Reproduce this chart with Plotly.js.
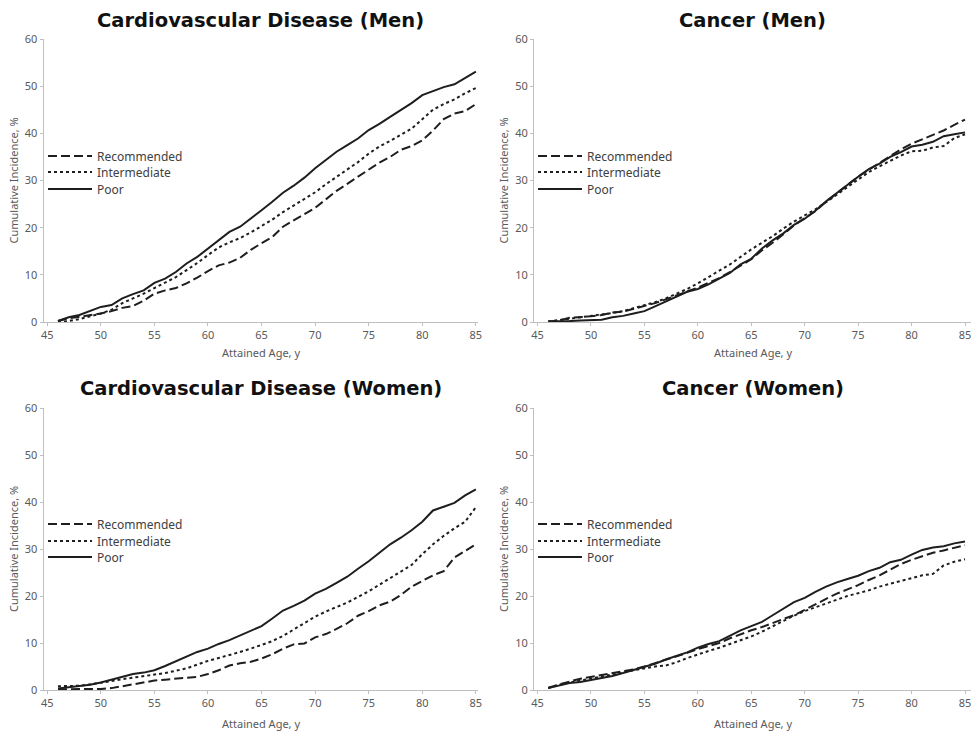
<!DOCTYPE html>
<html><head><meta charset="utf-8">
<script src="https://cdn.plot.ly/plotly-3.0.1.min.js"></script>
<style>html,body{margin:0;padding:0;background:#fff}#chart{width:971px;height:732px}</style>
</head><body><div id="chart"></div>
<script>
// ---- data ----
const ages = [46,47,48,49,50,51,52,53,54,55,56,57,58,59,60,61,62,63,64,65,66,67,68,69,70,71,72,73,74,75,76,77,78,79,80,81,82,83,84,85];
const seriesNames = ['Recommended','Intermediate','Poor'];
const panelTitles = ['Cardiovascular Disease (Men)','Cancer (Men)','Cardiovascular Disease (Women)','Cancer (Women)'];
const xTickVals = [45,50,55,60,65,70,75,80,85];
const yTickVals = [0,10,20,30,40,50,60];
const xTitle = 'Attained Age, y';
const yTitle = 'Cumulative Incidence, %';

const cvdMenRecommended = [0.2,0.8,1.1,1.4,1.8,2.3,3.0,3.4,4.5,6.0,6.7,7.2,8.2,9.4,10.8,12.0,12.6,13.6,15.3,16.7,18.0,20.2,21.5,22.8,24.2,26.0,27.8,29.3,30.8,32.2,33.8,35.0,36.5,37.3,38.5,40.6,43.0,44.2,44.7,46.2];
const cvdMenIntermediate = [0.0,0.2,0.6,1.2,1.8,2.6,4.0,5.0,6.0,7.2,8.3,9.5,11.0,12.5,14.2,15.8,16.9,17.8,19.0,20.3,21.7,23.3,24.7,26.0,27.5,29.2,30.8,32.3,33.9,35.7,37.2,38.4,39.7,41.0,43.0,45.0,46.2,47.2,48.5,49.6];
const cvdMenPoor = [0.2,1.0,1.5,2.3,3.2,3.6,5.0,5.9,6.7,8.3,9.2,10.6,12.4,13.8,15.6,17.3,19.1,20.2,21.9,23.7,25.5,27.4,28.9,30.6,32.6,34.3,36.1,37.5,38.9,40.7,42.0,43.5,44.9,46.4,48.1,49.0,49.8,50.4,51.7,53.1];

const cancerMenRecommended = [0.1,0.3,0.9,1.0,1.2,1.5,2.0,2.2,2.8,3.4,4.0,4.8,5.6,6.4,7.3,8.3,9.3,10.6,12.0,13.3,15.2,16.8,18.6,20.5,22.0,23.5,25.5,27.3,29.0,30.8,32.3,33.7,35.2,36.6,37.8,38.7,39.6,40.6,41.8,42.9];
const cancerMenIntermediate = [0.1,0.4,0.7,0.9,1.2,1.5,1.9,2.3,2.9,3.5,4.2,5.0,6.0,7.0,8.2,9.5,10.8,12.2,13.8,15.4,16.8,18.2,19.8,21.3,22.6,23.9,25.4,27.0,28.6,30.2,31.8,33.0,34.2,35.3,36.2,36.3,37.0,37.3,39.0,39.8];
const cancerMenPoor = [0.1,0.1,0.2,0.3,0.4,0.5,1.0,1.3,1.8,2.3,3.3,4.3,5.4,6.4,7.0,8.0,9.2,10.4,12.2,13.4,15.6,17.3,18.8,20.6,21.9,23.6,25.6,27.4,29.0,30.8,32.4,33.6,35.0,36.0,37.2,37.6,38.2,39.4,39.8,40.2];

const cvdWomenRecommended = [0.1,0.2,0.2,0.2,0.2,0.4,0.8,1.2,1.6,2.0,2.2,2.4,2.5,2.8,3.4,4.2,5.2,5.7,6.0,6.7,7.6,8.8,9.7,9.9,11.2,11.9,13.0,14.2,15.8,16.8,18.0,18.8,20.2,22.0,23.2,24.4,25.3,28.2,29.6,31.0];
const cvdWomenIntermediate = [0.8,0.8,0.9,1.2,1.5,1.9,2.3,2.6,2.9,3.2,3.6,4.1,4.6,5.4,6.2,6.8,7.4,8.1,8.8,9.6,10.4,11.5,12.9,14.3,15.6,16.7,17.6,18.6,19.8,21.0,22.4,23.8,25.2,26.6,28.9,31.0,32.8,34.4,35.8,38.9];
const cvdWomenPoor = [0.3,0.6,0.8,1.1,1.6,2.2,2.9,3.4,3.7,4.2,5.1,6.1,7.1,8.1,8.8,9.8,10.6,11.6,12.6,13.6,15.2,16.9,17.9,19.0,20.5,21.5,22.8,24.1,25.8,27.4,29.2,31.0,32.4,34.0,35.8,38.2,39.0,39.8,41.4,42.7];

const cancerWomenRecommended = [0.5,1.2,1.8,2.4,2.8,3.2,3.5,3.9,4.4,5.0,5.7,6.4,7.2,7.9,8.7,9.4,10.0,11.0,11.9,12.7,13.4,14.3,15.1,15.9,17.0,18.2,19.4,20.5,21.4,22.3,23.4,24.4,25.6,26.8,27.7,28.5,29.2,29.7,30.2,30.8];
const cancerWomenIntermediate = [0.4,1.1,1.6,2.0,2.4,2.8,3.2,3.7,4.2,4.6,5.0,5.2,5.9,6.8,7.6,8.3,9.0,9.8,10.6,11.4,12.4,13.6,14.7,15.8,16.8,17.6,18.4,19.2,20.0,20.6,21.2,22.0,22.6,23.1,23.8,24.4,24.7,26.5,27.3,27.8];
const cancerWomenPoor = [0.4,1.0,1.5,1.7,2.1,2.6,3.0,3.6,4.3,5.0,5.6,6.5,7.3,8.0,9.0,9.8,10.4,11.6,12.7,13.6,14.5,15.9,17.3,18.7,19.6,20.9,22.0,22.9,23.6,24.3,25.3,26.0,27.2,27.7,28.8,29.8,30.3,30.6,31.2,31.6];

const panelSeries = [
  [cvdMenRecommended, cvdMenIntermediate, cvdMenPoor],
  [cancerMenRecommended, cancerMenIntermediate, cancerMenPoor],
  [cvdWomenRecommended, cvdWomenIntermediate, cvdWomenPoor],
  [cancerWomenRecommended, cancerWomenIntermediate, cancerWomenPoor]
];

// ---- layout geometry (pixels) ----
const W = 971, H = 732;
const px = v => v / W;
const py = v => 1 - v / H;
const boxes = [
  {x0:43.5, x1:478, y0:39, y1:322, xr:[44.65,85.2], titleY:20, xTitleY:353, yTitleX:13, legX:48, legY:[156,172,189]},
  {x0:534, x1:971, y0:39, y1:322, xr:[44.67,85.56], titleY:20, xTitleY:353, yTitleX:503, legX:538, legY:[156,172,189]},
  {x0:43.5, x1:478, y0:408, y1:690, xr:[44.65,85.2], titleY:388, xTitleY:723, yTitleX:13, legX:48, legY:[524,541,557]},
  {x0:534, x1:971, y0:408, y1:690, xr:[44.67,85.56], titleY:388, xTitleY:723, yTitleX:503, legX:538, legY:[524,541,557]}
];
const lineStyles = [
  {dash:'9px,4px', width:2},
  {dash:'3px,3px', width:2},
  {dash:'solid', width:2}
];
const LEG_DX = 5, LEG_DY = 0;

const traces = [];
const layout = {
  width: W, height: H,
  margin: {l:0, r:0, t:0, b:0},
  paper_bgcolor: '#ffffff', plot_bgcolor: '#ffffff',
  font: {family: 'Noto Sans, sans-serif', color: '#595959', size: 11},
  annotations: [],
  showlegend: true
};

boxes.forEach((b, i) => {
  const sfx = i === 0 ? '' : String(i + 1);
  layout['xaxis' + sfx] = {
    domain: [px(b.x0), px(b.x1)], range: b.xr, anchor: 'y' + sfx,
    tickmode: 'array', tickvals: xTickVals, ticks: 'outside', ticklen: 3, tickcolor: '#bfbfbf',
    ticklabeloverflow: 'allow',
    showline: true, linecolor: '#bfbfbf', linewidth: 1, showgrid: false, zeroline: false,
    tickfont: {family: 'Noto Sans, sans-serif', size: 11, color: '#595959'}, fixedrange: true
  };
  layout['yaxis' + sfx] = {
    domain: [py(b.y1), py(b.y0)], range: [0, 60], anchor: 'x' + sfx,
    tickmode: 'array', tickvals: yTickVals, ticks: 'outside', ticklen: 3, tickcolor: '#bfbfbf',
    showline: true, linecolor: '#bfbfbf', linewidth: 1, showgrid: false, zeroline: false,
    tickfont: {family: 'Noto Sans, sans-serif', size: 11, color: '#595959'}, fixedrange: true
  };
  // panel title
  layout.annotations.push({
    text: panelTitles[i], xref: 'paper', yref: 'paper',
    x: px((b.x0 + b.x1) / 2), y: py(b.titleY), xanchor: 'center', yanchor: 'middle', showarrow: false,
    font: {family: 'DejaVu Sans, sans-serif', size: 19.5, color: '#111111', weight: 'bold'}
  });
  // axis titles
  layout.annotations.push({
    text: xTitle, xref: 'paper', yref: 'paper',
    x: px((b.x0 + b.x1) / 2), y: py(b.xTitleY), xanchor: 'center', yanchor: 'middle', showarrow: false,
    font: {family: 'Noto Sans, sans-serif', size: 11, color: '#595959'}
  });
  layout.annotations.push({
    text: yTitle, xref: 'paper', yref: 'paper', textangle: -90,
    x: px(b.yTitleX), y: py((b.y0 + b.y1) / 2), xanchor: 'center', yanchor: 'middle', showarrow: false,
    font: {family: 'Noto Sans, sans-serif', size: 11, color: '#595959'}
  });
  panelSeries[i].forEach((vals, j) => {
    const k = i * 3 + j;
    const lsfx = k === 0 ? '' : String(k + 1);
    traces.push({
      type: 'scatter', mode: 'lines', x: ages, y: vals, name: seriesNames[j],
      xaxis: 'x' + sfx, yaxis: 'y' + sfx, legend: 'legend' + lsfx,
      line: {color: '#1e1e1e', width: lineStyles[j].width, dash: lineStyles[j].dash},
      hoverinfo: 'skip'
    });
    layout['legend' + lsfx] = {
      x: px(b.legX - LEG_DX), y: py(b.legY[j] + LEG_DY), xanchor: 'left', yanchor: 'middle',
      bgcolor: 'rgba(0,0,0,0)', borderwidth: 0, itemwidth: 44,
      font: {family: 'Noto Sans, sans-serif', size: 12, color: '#404040'}
    };
  });
});

Plotly.newPlot('chart', traces, layout, {staticPlot: true, displayModeBar: false});
</script>
</body></html>
